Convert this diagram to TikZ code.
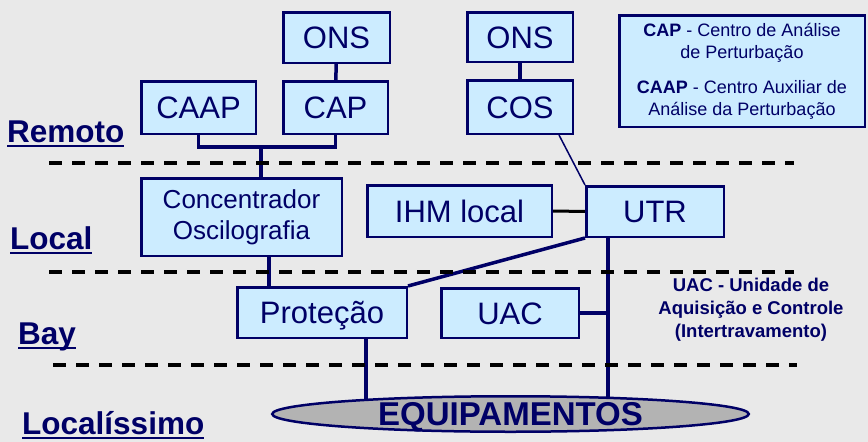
\documentclass[tikz,border=0pt]{standalone}
\usepackage{fontspec}
\setmainfont{Liberation Sans}
\usetikzlibrary{positioning, calc, backgrounds, shapes.geometric}

\definecolor{navy}{HTML}{000066}
\definecolor{boxblue}{HTML}{CCECFF}
\definecolor{bggray}{HTML}{E9E9E9}
\definecolor{equipgray}{HTML}{B3B3B3}

\newcommand{\levelname}[1]{\setbox0\hbox{#1}\rlap{\rule[-5pt]{\wd0}{2.5pt}}\box0}

\begin{document}
\begin{tikzpicture}[x=1pt, y=-1pt,
  box/.style={draw=navy, fill=boxblue, line width=2.5pt, inner sep=0pt, text=navy},
  block/.style={box, font=\fontsize{31}{36}\selectfont, text height=22pt, text depth=0pt},
  link/.style={draw=navy, line width=3.5pt},
  dashline/.style={line width=4pt, dash pattern=on 13pt off 10pt},
  level/.style={text=navy, font=\fontsize{31.5}{36}\selectfont\bfseries, anchor=base west, inner sep=0pt}]

\useasboundingbox (0,0) rectangle (868,442);
\begin{scope}[on background layer]
\fill[bggray] (0,0) rectangle (868,442);
\end{scope}

% level separators
\draw[dashline] (49,163) -- (794,163);
\draw[dashline] (49,272) -- (794,272);
\draw[dashline] (53,365) -- (797,365);

% levels
\node[level](remoto) at (7,142) {\levelname{Remoto}};
\node[level](local) at (10,249) {\levelname{Local}};
\node[level](bay) at (18,344) {\levelname{Bay}};
\node[level](localissimo) at (22,434) {\levelname{Localíssimo}};

% remote
\node[block, minimum width=106.5pt, minimum height=50.5pt](onsa) at (336.5,37.5) {ONS};
\node[block, minimum width=114.5pt, minimum height=52.5pt](caap) at (198.5,107.5) {CAAP};
\node[block, minimum width=104.5pt, minimum height=52.5pt](cap) at (335.5,107.5) {CAP};
\node[block, minimum width=105.5pt, minimum height=49.5pt](onsb) at (520,37) {ONS};
\node[block, minimum width=105.5pt, minimum height=53.5pt](cos) at (520,107) {COS};
\node[box, minimum width=245.5pt, minimum height=111.5pt, align=center, font=\fontsize{18}{22}\selectfont](legenda) at (742,71) {\textbf{CAP} - Centro de Análise\\de Perturbação\\[13pt]\textbf{CAAP} - Centro Auxiliar de\\Análise da Perturbação};

% local
\node[box, minimum width=200.5pt, minimum height=77.5pt, align=center, font=\fontsize{26}{31}\selectfont](conc) at (241.5,217) {Concentrador\\Oscilografia};
\node[block, minimum width=184.5pt, minimum height=51.5pt](ihm) at (459.5,211) {IHM local};
\node[block, minimum width=137.5pt, minimum height=50.5pt](utr) at (655,211.5) {UTR};

% bay
\node[block, minimum width=169.5pt, minimum height=50.5pt](prot) at (322,312.5) {Proteção};
\node[block, minimum width=137.5pt, minimum height=49.5pt](uac) at (510,313) {UAC};
\node[text=navy, align=center, font=\fontsize{18.5}{23}\selectfont\bfseries](uacnota) at (751,310) {UAC - Unidade de\\Aquisição e Controle\\(Intertravamento)};

% equipment
\node[ellipse, draw=navy, fill=equipgray, line width=2.5pt, minimum width=476.5pt, minimum height=35.5pt, inner sep=0pt, text=navy, font=\fontsize{33}{36}\selectfont\bfseries, text height=23.5pt, text depth=0pt](equip) at (510.5,414) {EQUIPAMENTOS};

\coordinate (bus) at (261,147);
\coordinate (cp) at (269,0);
\coordinate (pe) at (366,0);
\coordinate (ue) at (608,0);

\begin{scope}[on background layer]
\draw[link] (onsa) -- (cap);
\draw[link] (onsb) -- (cos);
\draw[link] (caap) |- (bus) -| (cap);
\draw[link] (bus) -- (bus |- conc.north);
\draw[link] (cp |- conc.south) -- (cp |- prot.north);
\draw[draw=navy, line width=1.5pt] ($(cos.south east)+(-15,0)$) -- (utr.north west);
\draw[line width=3pt] (ihm.east) -- (utr.west);
\draw[link] (prot.north east) -- (utr.south west);
\draw[link] (pe |- prot.south) -- (pe |- equip.center);
\draw[link] (ue |- utr.south) -- (ue |- equip.center);
\draw[link] (uac.east) -- (uac.east -| ue);
\end{scope}
\end{tikzpicture}
\end{document}
